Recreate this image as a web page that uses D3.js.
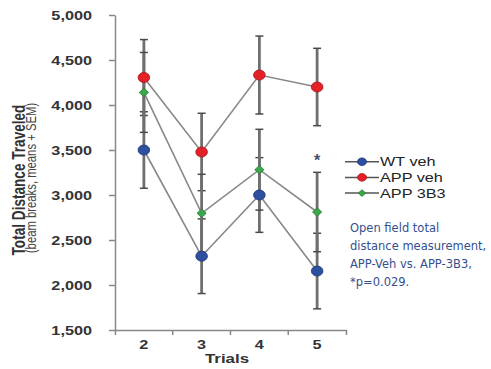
<!DOCTYPE html>
<html><head><meta charset="utf-8">
<script src="https://cdn.jsdelivr.net/npm/d3@7"></script>
<style>body{margin:0;background:#fff}</style>
</head><body>
<svg id="c" width="491" height="369"></svg>
<script>
// ---- data ----
const trials = ["2", "3", "4", "5"];
const seriesNames = ["WT veh", "APP veh", "APP 3B3"];
const wtVeh = [3500, 2320, 3000, 2155];
const wtVehSem = [425, 415, 415, 420];
const appVeh = [4305, 3478, 4333, 4200];
const appVehSem = [422, 430, 433, 430];
const app3B3 = [4140, 2797, 3281, 2811];
const app3B3Sem = [444, 433, 449, 441];
const yTicks = [1500, 2000, 2500, 3000, 3500, 4000, 4500, 5000];
const starTrial = "5";
const starValue = 3420;
const yTitle = "Total Distance Traveled";
const ySubtitle = "(beam breaks, means + SEM)";
const xTitle = "Trials";
const noteLines = ["Open field total", "distance measurement,", "APP-Veh vs. APP-3B3,", "*p=0.029."];

// ---- styles ----
const SX = 1.3; // horizontal stretch of the chart's text
const FONT = "'Liberation Sans', Arial, sans-serif";
const styles = [
  {fill: "#2d4fa0", stroke: "#1d3375", shape: "circle"},
  {fill: "#e32127", stroke: "#a3151a", shape: "circle"},
  {fill: "#3aa84a", stroke: "#24772f", shape: "diamond"}
];
const series = [
  {name: seriesNames[0], values: wtVeh, sem: wtVehSem},
  {name: seriesNames[1], values: appVeh, sem: appVehSem},
  {name: seriesNames[2], values: app3B3, sem: app3B3Sem}
].map((s, i) => Object.assign(s, styles[i]));

const svg = d3.select("#c");
const x = d3.scaleBand().domain(trials).range([115, 346]);
const y = d3.scaleLinear().domain([1500, 5000]).range([330, 15]);
const cx = t => x(t) + x.bandwidth() / 2;

// y axis
const gy = svg.append("g").attr("transform", "translate(115,0)")
  .call(d3.axisLeft(y).tickValues(yTicks).tickFormat(d3.format(",")).tickSize(6).tickSizeOuter(0));
gy.select(".domain").attr("stroke", "#888").attr("stroke-width", 1.5);
gy.selectAll(".tick line").attr("stroke", "#888").attr("stroke-width", 1.5);
gy.selectAll(".tick text").attr("x", null)
  .attr("transform", `translate(-23,0) scale(${SX},1)`)
  .attr("font-family", FONT).attr("font-weight", "bold").attr("font-size", 12.5).attr("fill", "#333");

// x axis
const gx = svg.append("g").attr("transform", "translate(0,330)")
  .call(d3.axisBottom(x).tickSize(0).tickSizeOuter(5).tickPadding(10));
gx.select(".domain").attr("stroke", "#888").attr("stroke-width", 1.5);
gx.selectAll(".boundary").data(trials.slice(1)).enter().append("line")
  .attr("x1", d => x(d)).attr("x2", d => x(d)).attr("y1", 0).attr("y2", 5)
  .attr("stroke", "#888").attr("stroke-width", 1.5);
gx.selectAll(".tick text")
  .attr("transform", `scale(${SX},1)`)
  .attr("font-family", FONT).attr("font-weight", "bold").attr("font-size", 12.5).attr("fill", "#333");

// axis titles
svg.append("text").attr("transform", `translate(227,363) scale(${SX},1)`)
  .attr("text-anchor", "middle").attr("font-family", FONT).attr("font-weight", "bold")
  .attr("font-size", 13).attr("fill", "#333").text(xTitle);
svg.append("text").attr("transform", `translate(25,180) scale(${SX},1) rotate(-90)`)
  .attr("text-anchor", "middle").attr("font-family", FONT).attr("font-weight", "bold")
  .attr("font-size", 13.6).attr("fill", "#333").text(yTitle);
svg.append("text").attr("transform", `translate(35.5,178) scale(${SX},1) rotate(-90)`)
  .attr("text-anchor", "middle").attr("font-family", FONT)
  .attr("font-size", 11.3).attr("fill", "#444").text(ySubtitle);

// error bars
const eb = svg.append("g");
series.forEach(s => {
  trials.forEach((t, i) => {
    const x0 = cx(t), yTop = y(s.values[i] + s.sem[i]), yBot = y(s.values[i] - s.sem[i]);
    eb.append("line").attr("x1", x0).attr("x2", x0).attr("y1", yTop).attr("y2", yBot)
      .attr("stroke", "#6f6f6f").attr("stroke-width", 2.8);
    [yTop, yBot].forEach(yy => eb.append("line").attr("x1", x0 - 4).attr("x2", x0 + 4)
      .attr("y1", yy).attr("y2", yy).attr("stroke", "#4a4a4a").attr("stroke-width", 1.5));
  });
});

// connecting lines
const line = d3.line().x((d, i) => cx(trials[i])).y(d => y(d));
series.forEach(s => {
  svg.append("path").attr("d", line(s.values)).attr("fill", "none")
    .attr("stroke", "#888").attr("stroke-width", 1.6);
});

// markers
function marker(g, s, px, py, big) {
  if (s.shape === "circle") {
    g.append("ellipse").attr("cx", px).attr("cy", py)
      .attr("rx", big ? 5.8 : 4.5).attr("ry", big ? 5 : 3.8)
      .attr("fill", s.fill).attr("stroke", s.stroke).attr("stroke-width", 0.8);
  } else {
    const w = big ? 4.6 : 3.8, h = big ? 4.3 : 3.3;
    g.append("path").attr("d", `M${px - w},${py}L${px},${py - h}L${px + w},${py}L${px},${py + h}Z`)
      .attr("fill", s.fill).attr("stroke", s.stroke).attr("stroke-width", 0.8);
  }
}
const mg = svg.append("g");
series.forEach(s => trials.forEach((t, i) => marker(mg, s, cx(t), y(s.values[i]), true)));

// significance star
svg.append("text").attr("x", cx(starTrial)).attr("y", y(starValue) + 9)
  .attr("text-anchor", "middle").attr("font-family", FONT).attr("font-weight", "bold")
  .attr("font-size", 16).attr("fill", "#44506a").text("*");

// legend
const lg = svg.append("g");
series.forEach((s, i) => {
  const ly = 161.7 + i * 15.7;
  lg.append("line").attr("x1", 345).attr("x2", 379).attr("y1", ly).attr("y2", ly)
    .attr("stroke", "#555").attr("stroke-width", 1.5);
  marker(lg, s, 362, ly, false);
  lg.append("text").attr("transform", `translate(380,${ly + 4.5}) scale(${SX},1)`)
    .attr("font-family", FONT).attr("font-size", 12.5).attr("fill", "#222").text(s.name);
});

// note
svg.append("g").selectAll("text").data(noteLines).enter().append("text")
  .attr("x", 350).attr("y", (d, i) => 232 + i * 18)
  .attr("font-family", "'DejaVu Sans', sans-serif").attr("font-size", 11.5)
  .attr("fill", "#34508f").text(d => d);
</script>
</body></html>
